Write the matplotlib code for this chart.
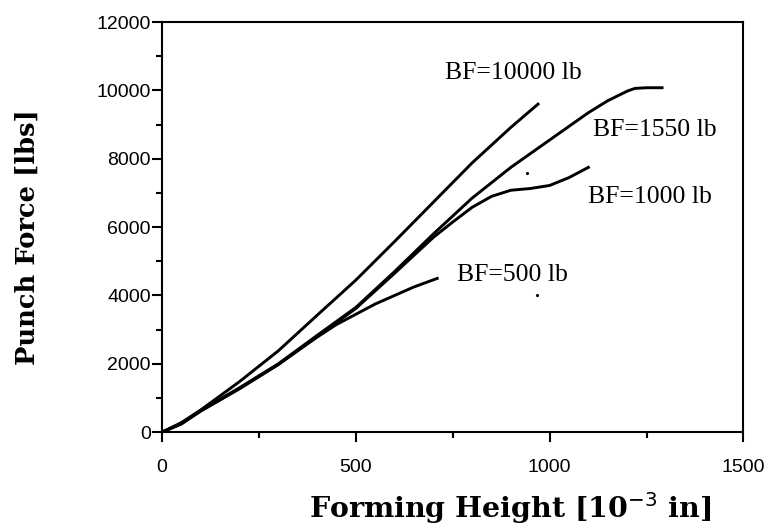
import matplotlib.pyplot as plt
from matplotlib.ticker import MultipleLocator

height_10000 = [0, 50, 100, 200, 300, 400, 500, 600, 700, 800, 900, 970]
force_10000 = [0, 280, 650, 1480, 2380, 3420, 4450, 5580, 6730, 7880, 8920, 9600]

height_1550 = [0, 50, 100, 200, 300, 400, 500, 600, 700, 800, 900, 1000, 1100, 1150, 1200, 1220, 1250, 1290]
force_1550 = [0, 250, 640, 1300, 2000, 2830, 3650, 4700, 5800, 6850, 7750, 8550, 9350, 9700, 9980, 10060, 10080, 10080]

height_1000 = [0, 50, 100, 200, 300, 400, 500, 600, 700, 750, 800, 850, 900, 950, 1000, 1050, 1100]
force_1000 = [0, 240, 620, 1270, 1980, 2800, 3620, 4650, 5700, 6150, 6580, 6900, 7080, 7130, 7220, 7450, 7750]

height_500 = [0, 50, 100, 200, 300, 400, 450, 500, 550, 600, 650, 710]
force_500 = [0, 250, 620, 1280, 1980, 2780, 3150, 3450, 3750, 4000, 4250, 4500]

labels = ["BF=10000 lb", "BF=1550 lb", "BF=1000 lb", "BF=500 lb"]
label_xy = [(731, 10500), (1113, 8840), (1100, 6880), (762, 4600)]

# stray specks in the scan
speck_x = [968, 942]
speck_y = [4000, 7580]

fig = plt.figure(figsize=(7.68, 5.27), dpi=100)
ax = fig.add_axes([0.211, 0.180, 0.757, 0.778])

for hx, fy in [(height_10000, force_10000), (height_1550, force_1550),
               (height_1000, force_1000), (height_500, force_500)]:
    ax.plot(hx, fy, color='black', lw=2.1)

ax.plot(speck_x, speck_y, 'k.', ms=2.5)

for txt, (tx, ty) in zip(labels, label_xy):
    ax.text(tx, ty, txt, ha='left', va='center', fontsize=18.5,
            family='Liberation Serif')

ax.set_xlim(0, 1500)
ax.set_ylim(0, 12000)

ax.xaxis.set_major_locator(MultipleLocator(500))
ax.xaxis.set_minor_locator(MultipleLocator(250))
ax.yaxis.set_major_locator(MultipleLocator(2000))
ax.yaxis.set_minor_locator(MultipleLocator(1000))

ax.tick_params(which='both', direction='out', width=1.5, top=False, right=False)
ax.tick_params(which='major', length=7)
ax.tick_params(which='minor', length=4)
ax.tick_params(axis='x', which='major', pad=12)
ax.tick_params(axis='y', which='major', pad=1)
for lab in ax.get_xticklabels() + ax.get_yticklabels():
    lab.set_family('Liberation Sans')
    lab.set_fontsize(14)

for sp in ax.spines.values():
    sp.set_linewidth(1.5)

ax.set_xlabel('Forming Height [10$^{-3}$ in]', family='DejaVu Serif',
              fontweight='bold', fontsize=20.5)
ax.set_ylabel('Punch Force [lbs]', family='DejaVu Serif',
              fontweight='bold', fontsize=18.5)
ax.xaxis.set_label_coords(0.599, -0.185)
ax.xaxis.label.set_va('center')
ax.yaxis.set_label_coords(-0.232, 0.476)
ax.yaxis.label.set_va('center')

plt.savefig('out.png', dpi=100)
